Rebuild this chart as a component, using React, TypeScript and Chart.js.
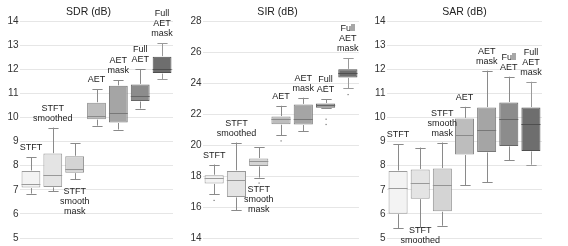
import React, { useEffect, useRef } from "react";
import { Chart, registerables } from "chart.js";

Chart.register(...registerables);

const categories: string[][] = [
  ["STFT"],
  ["STFT", "smoothed"],
  ["STFT", "smooth", "mask"],
  ["AET"],
  ["AET", "mask"],
  ["Full", "AET"],
  ["Full", "AET", "mask"],
];

// SDR (dB)
const sdrMin = [6.84, 6.95, 7.43, 9.66, 9.5, 10.37, 11.59];
const sdrQ1 = [7.09, 7.12, 7.71, 9.93, 9.79, 10.68, 11.84];
const sdrMed = [7.25, 7.6, 7.88, 10.08, 10.2, 10.87, 12.01];
const sdrQ3 = [7.78, 8.5, 8.39, 10.61, 11.31, 11.37, 12.52];
const sdrMax = [8.34, 9.58, 8.92, 11.16, 11.55, 12.01, 13.07];
const sdrOutliers: number[][] = [[], [], [], [], [], [], []];
const sdrLabelSide = ["above", "above", "below", "above", "above", "above", "above"];

// SIR (dB)
const sirMin = [16.82, 15.79, 17.9, 20.63, 20.89, 22.36, 23.65];
const sirQ1 = [17.52, 16.65, 18.65, 21.34, 21.32, 22.4, 24.36];
const sirMed = [17.84, 17.77, 18.95, 21.67, 21.65, 22.55, 24.66];
const sirQ3 = [18.05, 18.33, 19.13, 21.84, 22.62, 22.68, 24.88];
const sirMax = [18.74, 20.16, 19.84, 22.53, 23.05, 22.96, 25.59];
const sirOutliers: number[][] = [[16.43], [], [17.55], [20.27], [], [23.8, 21.67, 21.33], [23.26]];
const sirLabelSide = ["above", "above", "below", "above", "above", "above", "above"];

// SAR (dB)
const sarMin = [5.41, 5.45, 5.51, 7.19, 7.32, 8.22, 8.04];
const sarQ1 = [6.01, 6.63, 6.11, 8.46, 8.57, 8.82, 8.61];
const sarMed = [7.07, 7.3, 7.19, 9.26, 9.5, 9.92, 9.71];
const sarQ3 = [7.78, 7.84, 7.88, 9.96, 10.41, 10.62, 10.41];
const sarMax = [8.88, 8.75, 8.96, 10.44, 11.94, 11.69, 11.48];
const sarOutliers: number[][] = [[], [], [], [], [], [], []];
const sarLabelSide = ["above", "below", "above", "above", "above", "above", "above"];

const boxFills = ["#f3f3f3", "#e4e4e4", "#d4d4d4", "#bdbdbd", "#a5a5a5", "#8c8c8c", "#6e6e6e"];
const boxBorders = ["#9c9c9c", "#999999", "#949494", "#8a8a8a", "#787878", "#666666", "#4f4f4f"];
const whiskerColors = ["#8a8a8a", "#8a8a8a", "#8a8a8a", "#8a8a8a", "#8a8a8a", "#8a8a8a", "#9a9a9a"];

const FONT = '"Liberation Sans", Arial, Helvetica, sans-serif';

type PanelProps = {
  title: string;
  mins: number[];
  q1: number[];
  med: number[];
  q3: number[];
  maxs: number[];
  outliers: number[][];
  labelSide: string[];
  yMin: number;
  yMax: number;
  step: number;
  left: number;
  width: number;
  axisWidth: number;
  padRight: number;
  titleOffset: number;
};

function Panel(p: PanelProps) {
  const ref = useRef<HTMLCanvasElement | null>(null);
  useEffect(() => {
    if (!ref.current) return;
    const extras = {
      id: "boxExtras",
      afterDatasetsDraw(chart: any) {
        const ctx = chart.ctx as CanvasRenderingContext2D;
        const ys = chart.scales.y;
        const meta = chart.getDatasetMeta(0);
        const area = chart.chartArea;
        ctx.save();
        // title
        ctx.fillStyle = "#222";
        ctx.font = `10.5px ${FONT}`;
        ctx.textAlign = "center";
        ctx.textBaseline = "middle";
        ctx.fillText(p.title, (area.left + area.right) / 2 + p.titleOffset, 12);
        meta.data.forEach((bar: any, i: number) => {
          const cx = Math.round(bar.x) + 0.5;
          const capHalf = bar.width * 0.27;
          const yMax = ys.getPixelForValue(p.maxs[i]);
          const yMinP = ys.getPixelForValue(p.mins[i]);
          const yQ1 = ys.getPixelForValue(p.q1[i]);
          const yQ3 = ys.getPixelForValue(p.q3[i]);
          const yMed = ys.getPixelForValue(p.med[i]);
          ctx.lineWidth = 1;
          ctx.strokeStyle = whiskerColors[i];
          ctx.beginPath();
          ctx.moveTo(cx, yQ3 - 0.5);
          ctx.lineTo(cx, yMax);
          ctx.moveTo(cx - capHalf, Math.round(yMax) + 0.5);
          ctx.lineTo(cx + capHalf, Math.round(yMax) + 0.5);
          ctx.moveTo(cx, yQ1 + 0.5);
          ctx.lineTo(cx, yMinP);
          ctx.moveTo(cx - capHalf, Math.round(yMinP) + 0.5);
          ctx.lineTo(cx + capHalf, Math.round(yMinP) + 0.5);
          ctx.stroke();
          // median
          ctx.strokeStyle = boxBorders[i];
          ctx.beginPath();
          ctx.moveTo(bar.x - bar.width / 2, Math.round(yMed) + 0.5);
          ctx.lineTo(bar.x + bar.width / 2, Math.round(yMed) + 0.5);
          ctx.stroke();
          // outliers
          ctx.fillStyle = "#777";
          p.outliers[i].forEach((v) => {
            const oy = ys.getPixelForValue(v);
            ctx.fillRect(cx - 1, oy - 0.5, 1.2, 1.2);
          });
          // labels
          const lines = categories[i];
          ctx.fillStyle = "#222";
          ctx.font = `9px ${FONT}`;
          ctx.textAlign = "center";
          ctx.textBaseline = "middle";
          const lh = 10;
          if (p.labelSide[i] === "above") {
            const lastY = yMax - 9.5;
            lines.forEach((t, k) => {
              ctx.fillText(t, bar.x, lastY - (lines.length - 1 - k) * lh);
            });
          } else {
            let firstY = yMinP + 12;
            const lastY = firstY + (lines.length - 1) * lh;
            if (lastY > 241) firstY -= lastY - 241;
            lines.forEach((t, k) => {
              ctx.fillText(t, bar.x, firstY + k * lh);
            });
          }
        });
        ctx.restore();
      },
    };
    const chart = new Chart(ref.current, {
      type: "bar",
      data: {
        labels: categories.map((c) => c.join(" ")),
        datasets: [
          {
            data: p.q1.map((v, i) => [v, p.q3[i]]) as any,
            backgroundColor: boxFills,
            borderColor: boxBorders,
            borderWidth: 1,
            borderSkipped: false,
            barPercentage: 0.86,
            categoryPercentage: 1,
          },
        ],
      },
      options: {
        animation: false,
        responsive: false,
        maintainAspectRatio: false,
        layout: { padding: { top: 21, bottom: 8, left: 0, right: p.padRight } },
        plugins: {
          legend: { display: false },
          title: { display: false },
          tooltip: { enabled: false },
        },
        scales: {
          x: { display: false },
          y: {
            min: p.yMin,
            max: p.yMax,
            afterFit: (s: any) => {
              s.width = p.axisWidth;
            },
            border: { display: false },
            grid: { color: "#e6e6e6", drawTicks: false, lineWidth: 1 },
            ticks: {
              stepSize: p.step,
              padding: 1.5,
              color: "#333",
              font: { family: FONT, size: 10 },
            },
          },
        },
      },
      plugins: [extras],
    });
    return () => chart.destroy();
  }, []);
  return (
    <canvas
      ref={ref}
      width={p.width}
      height={246}
      style={{ position: "absolute", left: p.left, top: 0, width: p.width, height: 246 }}
    />
  );
}

export default function App() {
  return (
    <div style={{ position: "absolute", left: 0, top: 0, width: 568, height: 246, background: "#fff" }}>
      <Panel
        title="SDR (dB)"
        mins={sdrMin}
        q1={sdrQ1}
        med={sdrMed}
        q3={sdrQ3}
        maxs={sdrMax}
        outliers={sdrOutliers}
        labelSide={sdrLabelSide}
        yMin={5}
        yMax={14}
        step={1}
        left={0}
        width={177}
        axisWidth={20}
        padRight={4}
        titleOffset={-8}
      />
      <Panel
        title="SIR (dB)"
        mins={sirMin}
        q1={sirQ1}
        med={sirMed}
        q3={sirQ3}
        maxs={sirMax}
        outliers={sirOutliers}
        labelSide={sirLabelSide}
        yMin={14}
        yMax={28}
        step={2}
        left={180}
        width={182}
        axisWidth={23}
        padRight={3}
        titleOffset={-3.5}
      />
      <Panel
        title="SAR (dB)"
        mins={sarMin}
        q1={sarQ1}
        med={sarMed}
        q3={sarQ3}
        maxs={sarMax}
        outliers={sarOutliers}
        labelSide={sarLabelSide}
        yMin={5}
        yMax={14}
        step={1}
        left={364}
        width={204}
        axisWidth={23}
        padRight={26}
        titleOffset={0}
      />
    </div>
  );
}
